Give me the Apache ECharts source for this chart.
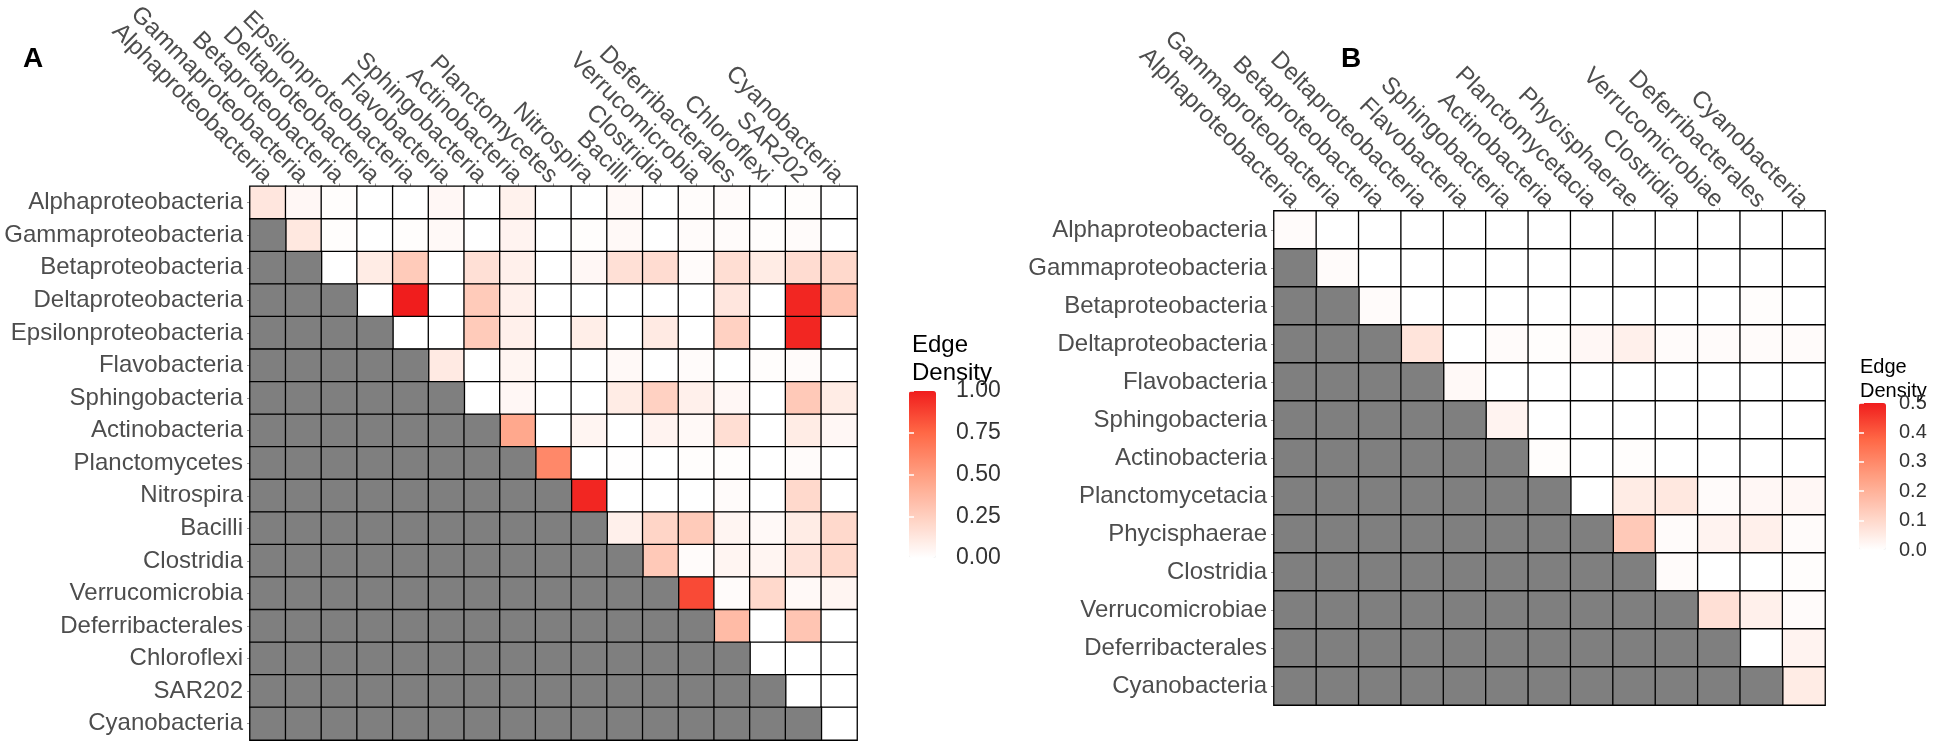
<!DOCTYPE html>
<html><head><meta charset="utf-8">
<script src="https://cdn.jsdelivr.net/npm/echarts@6/dist/echarts.min.js"></script>
<style>html,body{margin:0;padding:0;background:#fff}#c{width:1941px;height:743px}</style>
</head><body><div id="c"></div><script>
// ---------- data ----------
const catsA = ['Alphaproteobacteria','Gammaproteobacteria','Betaproteobacteria','Deltaproteobacteria','Epsilonproteobacteria','Flavobacteria','Sphingobacteria','Actinobacteria','Planctomycetes','Nitrospira','Bacilli','Clostridia','Verrucomicrobia','Deferribacterales','Chloroflexi','SAR202','Cyanobacteria'];
// upper triangle rows, each starting at the diagonal cell
const rowsA = [
  [0.13,0.04,0.01,0,0,0.04,0,0.07,0,0,0.03,0,0.015,0.02,0,0.01,0],
  [0.12,0.01,0,0.01,0.03,0,0.06,0,0.01,0.03,0,0.02,0.02,0.01,0.02,0],
  [0,0.1,0.27,0,0.16,0.08,0,0.04,0.16,0.18,0.02,0.17,0.1,0.18,0.2],
  [0,1.0,0,0.27,0.08,0,0,0,0,0,0.13,0,0.97,0.3],
  [0,0,0.27,0.08,0,0.09,0,0.11,0,0.24,0,0.97,0],
  [0.11,0,0.05,0,0,0.03,0,0.02,0,0.01,0.02,0],
  [0,0.04,0,0,0.1,0.24,0.08,0.04,0,0.28,0.1],
  [0.45,0,0.05,0,0.06,0.03,0.17,0,0.1,0.04],
  [0.6,0,0.005,0,0.01,0.01,0,0.02,0],
  [0.97,0,0,0,0.02,0,0.2,0],
  [0.08,0.22,0.27,0.05,0.03,0.1,0.2],
  [0.28,0.02,0.05,0.05,0.15,0.2],
  [0.85,0.02,0.2,0.03,0.05],
  [0.35,0,0.3,0],
  [0,0,0],
  [0,0],
  [0]
];
const catsB = ['Alphaproteobacteria','Gammaproteobacteria','Betaproteobacteria','Deltaproteobacteria','Flavobacteria','Sphingobacteria','Actinobacteria','Planctomycetacia','Phycisphaerae','Clostridia','Verrucomicrobiae','Deferribacterales','Cyanobacteria'];
const rowsB = [
  [0.01,0,0,0,0,0,0,0,0,0,0,0,0],
  [0.01,0,0,0,0,0,0,0,0,0,0,0],
  [0.01,0,0,0,0,0,0,0,0,0.005,0],
  [0.07,0,0.01,0.005,0.02,0.04,0.01,0.01,0.01,0.01],
  [0.015,0,0,0,0,0,0,0,0],
  [0.03,0,0,0,0,0,0,0],
  [0.005,0,0.005,0,0,0,0],
  [0,0.05,0.06,0.01,0.02,0.02,0.01],
  [0.14,0.01,0.03,0.04,0.01],
  [0.01,0,0,0.005],
  [0.08,0.04,0.01],
  [0,0.03],
  [0.05]
];
const legendA = {max: 1, step: 0.25, digits: 2};
const legendB = {max: 0.5, step: 0.1, digits: 1};

// ---------- build ----------
function build(rows){
  const vals = [], na = [], n = rows.length;
  for (let i = 0; i < n; i++) for (let j = 0; j < n; j++) {
    if (j < i) na.push([j, i, 0]); else vals.push([j, i, rows[i][j - i]]);
  }
  return {vals, na};
}
const A = build(rowsA), B = build(rowsB);
const FONT = 'Liberation Sans, Arial, sans-serif';
const ramp = ['#FFFFFF','#FFCFBF','#FF9E81','#FF6846','#F01D1D'];
const G = {
  A: {left: 250, top: 174, width: 607, height: 566},
  B: {left: 1274, top: 211, width: 551, height: 494},
  LA: {left: 909, top: 391, width: 27, height: 167},
  LB: {left: 1859, top: 403, width: 27, height: 147}
};
const FS = 24;
function catX(gi, cats){
  return {gridIndex: gi, type: 'category', position: 'top', data: cats,
    axisLine: {show: false}, axisTick: {show: true, length: 3, alignWithLabel: true, lineStyle: {color: '#999'}},
    splitLine: {show: false},
    axisLabel: {rotate: 45, interval: 0, margin: 7, fontSize: FS, color: '#4D4D4D', fontFamily: FONT, hideOverlap: false}};
}
function catY(gi, cats){
  return {gridIndex: gi, type: 'category', inverse: true, data: cats,
    axisLine: {show: false}, axisTick: {show: true, length: 3, alignWithLabel: true, lineStyle: {color: '#999'}},
    splitLine: {show: false},
    axisLabel: {interval: 0, margin: 7, fontSize: FS, color: '#4D4D4D', fontFamily: FONT}};
}
function legX(gi){ return {gridIndex: gi, type: 'value', min: 0, max: 1, show: false}; }
function legY(gi, L, pos, labels, fs, margin){
  return {gridIndex: gi, type: 'value', min: 0, max: L.max, interval: L.step, position: pos, z: 10,
    axisLine: {show: false}, splitLine: {show: false},
    axisTick: {show: true, inside: true, length: 5, lineStyle: {color: '#fff', width: 1.5}},
    axisLabel: {show: labels, margin: margin, fontSize: fs, color: '#333', fontFamily: FONT,
      formatter: v => v.toFixed(L.digits)}};
}
const cellStyle = {borderColor: '#000', borderWidth: 1.3};
const option = {
  animation: false,
  backgroundColor: '#fff',
  textStyle: {fontFamily: FONT},
  title: [
    {text: 'A', left: 18, top: 40, textStyle: {fontSize: 28, fontWeight: 'bold', color: '#000', fontFamily: FONT}},
    {text: 'B', left: 1336, top: 40, textStyle: {fontSize: 28, fontWeight: 'bold', color: '#000', fontFamily: FONT}},
    {text: 'Edge\nDensity', left: 907, top: 326, textStyle: {fontSize: 24, lineHeight: 28, fontWeight: 'normal', color: '#000', fontFamily: FONT}},
    {text: 'Edge\nDensity', left: 1855, top: 350, textStyle: {fontSize: 20, lineHeight: 24, fontWeight: 'normal', color: '#000', fontFamily: FONT}}
  ],
  grid: [
    Object.assign({containLabel: false}, G.A),
    Object.assign({containLabel: false}, G.B),
    Object.assign({containLabel: false}, G.LA),
    Object.assign({containLabel: false}, G.LB)
  ],
  xAxis: [catX(0, catsA), catX(1, catsB), legX(2), legX(3)],
  yAxis: [catY(0, catsA), catY(1, catsB),
    legY(2, legendA, 'right', true, 23, 20), legY(3, legendB, 'right', true, 20, 13),
    legY(2, legendA, 'left', false, 23, 8), legY(3, legendB, 'left', false, 20, 8)],
  visualMap: [
    {type: 'continuous', seriesIndex: 0, min: 0, max: legendA.max, inRange: {color: ramp}, calculable: false,
     left: G.LA.left, top: G.LA.top, itemWidth: G.LA.width, itemHeight: G.LA.height, padding: 0, text: null, hoverLink: false},
    {type: 'continuous', seriesIndex: 2, min: 0, max: legendB.max, inRange: {color: ramp}, calculable: false,
     left: G.LB.left, top: G.LB.top, itemWidth: G.LB.width, itemHeight: G.LB.height, padding: 0, text: null, hoverLink: false}
  ],
  series: [
    {type: 'heatmap', xAxisIndex: 0, yAxisIndex: 0, data: A.vals, itemStyle: cellStyle},
    {type: 'heatmap', xAxisIndex: 0, yAxisIndex: 0, data: A.na, itemStyle: Object.assign({color: '#7F7F7F'}, cellStyle)},
    {type: 'heatmap', xAxisIndex: 1, yAxisIndex: 1, data: B.vals, itemStyle: cellStyle},
    {type: 'heatmap', xAxisIndex: 1, yAxisIndex: 1, data: B.na, itemStyle: Object.assign({color: '#7F7F7F'}, cellStyle)}
  ]
};
const chart = echarts.init(document.getElementById('c'), null, {renderer: 'canvas'});
chart.setOption(option);
</script></body></html>
